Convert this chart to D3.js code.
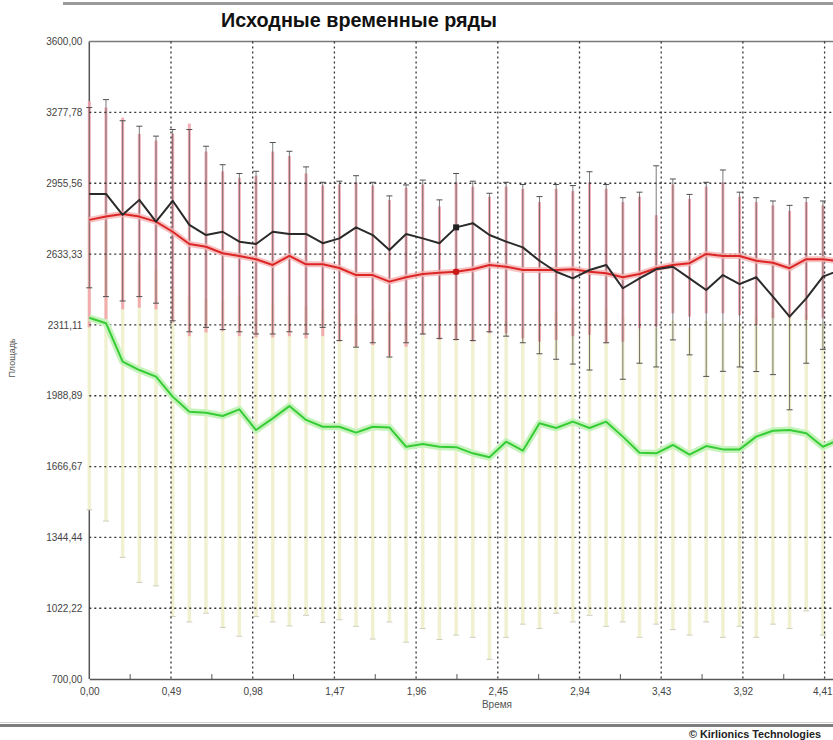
<!DOCTYPE html>
<html>
<head>
<meta charset="utf-8">
<script src="https://cdn.jsdelivr.net/npm/d3@7"></script>
<style>
  html, body { margin: 0; padding: 0; background: #fff; overflow: hidden; }
  text { font-family: "Liberation Sans", Arial, sans-serif; }
</style>
</head>
<body>
<svg id="chart" width="833" height="740"></svg>
<script>
// Time points (step 0.1)
const time = [0.0, 0.1, 0.2, 0.3, 0.4, 0.5, 0.6, 0.7, 0.8, 0.9,
              1.0, 1.1, 1.2, 1.3, 1.4, 1.5, 1.6, 1.7, 1.8, 1.9,
              2.0, 2.1, 2.2, 2.3, 2.4, 2.5, 2.6, 2.7, 2.8, 2.9,
              3.0, 3.1, 3.2, 3.3, 3.4, 3.5, 3.6, 3.7, 3.8, 3.9,
              4.0, 4.1, 4.2, 4.3, 4.4, 4.5];

// Series 1 (black)
const blackMean = [2907, 2907, 2812, 2880, 2781, 2876, 2766, 2720, 2735, 2690,
                   2679, 2735, 2725, 2725, 2683, 2705, 2755, 2720, 2652, 2725,
                   2705, 2683, 2755, 2774, 2720, 2690, 2664, 2603, 2553, 2523,
                   2561, 2584, 2478, 2523, 2564, 2576, 2523, 2470, 2538, 2497,
                   2528, 2440, 2349, 2432, 2531, 2560];
const blackHigh = [3300, 3336, 3240, 3215, 3170, 3200, 3200, 3124, 3040, 3000,
                   3010, 3141, 3101, 3030, 2960, 2965, 2990, 2960, 2898, 2948,
                   2970, 2880, 3000, 2965, 2910, 2960, 2950, 2895, 2950, 2945,
                   3008, 2950, 2890, 2915, 3035, 2975, 2905, 2960, 3016, 2915,
                   2890, 2875, 2855, 2890, 2875, 2885];
const blackLow  = [2480, 2440, 2420, 2440, 2410, 2330, 2280, 2300, 2290, 2280,
                   2270, 2270, 2280, 2270, 2300, 2240, 2210, 2230, 2165, 2230,
                   2270, 2250, 2245, 2240, 2280, 2260, 2230, 2180, 2155, 2133,
                   2106, 2230, 2064, 2137, 2120, 2243, 2175, 2077, 2100, 2120,
                   2099, 2085, 1925, 2137, 2200, 2180];

// Series 2 (red)
const redMean = [2789, 2804, 2816, 2804, 2781, 2735, 2679, 2667, 2637, 2625,
                 2610, 2584, 2625, 2587, 2587, 2570, 2538, 2538, 2508, 2528,
                 2543, 2549, 2553, 2564, 2584, 2576, 2561, 2561, 2561, 2564,
                 2553, 2546, 2528, 2543, 2569, 2584, 2592, 2634, 2625, 2625,
                 2603, 2594, 2569, 2610, 2610, 2600];
const redHigh = [3330, 3300, 3254, 3180, 3150, 3180, 3227, 3100, 3010, 2980,
                 2990, 3100, 3080, 3000, 2945, 2950, 2960, 2945, 2880, 2935,
                 2950, 2850, 2960, 2940, 2895, 2940, 2930, 2870, 2930, 2920,
                 2960, 2930, 2870, 2895, 2810, 2950, 2885, 2940, 2960, 2895,
                 2870, 2855, 2830, 2870, 2855, 2860];
const redLow  = [2300, 2336, 2382, 2390, 2382, 2322, 2260, 2277, 2283, 2260,
                 2254, 2254, 2260, 2250, 2260, 2236, 2214, 2220, 2170, 2212,
                 2266, 2243, 2240, 2235, 2273, 2273, 2250, 2235, 2243, 2260,
                 2266, 2228, 2235, 2296, 2303, 2364, 2349, 2364, 2364, 2355,
                 2311, 2342, 2342, 2334, 2342, 2330];

// Series 3 (green)
const greenMean = [2344, 2319, 2144, 2106, 2076, 1985, 1916, 1912, 1897, 1927,
                   1833, 1886, 1942, 1879, 1848, 1848, 1821, 1848, 1845, 1757,
                   1769, 1757, 1755, 1727, 1709, 1780, 1739, 1864, 1842, 1871,
                   1842, 1871, 1803, 1730, 1727, 1765, 1721, 1760, 1745, 1745,
                   1803, 1830, 1833, 1818, 1757, 1790];
const greenHigh = [2800, 2780, 2650, 2600, 2560, 2480, 2440, 2430, 2420, 2440,
                   2380, 2410, 2450, 2400, 2380, 2380, 2360, 2380, 2370, 2320,
                   2330, 2320, 2320, 2300, 2290, 2330, 2300, 2380, 2370, 2390,
                   2370, 2390, 2350, 2300, 2300, 2330, 2300, 2330, 2320, 2320,
                   2350, 2370, 2370, 2360, 2320, 2340];
const greenLow  = [1470, 1419, 1254, 1140, 1124, 985, 960, 1000, 935, 895,
                   985, 960, 942, 990, 958, 970, 940, 882, 960, 868,
                   930, 880, 900, 890, 790, 890, 950, 930, 1000, 960,
                   990, 940, 960, 890, 950, 925, 900, 960, 890, 940,
                   890, 950, 930, 1010, 900, 960];

// Axis ticks and labels
const xTicks = [0, 0.49, 0.98, 1.47, 1.96, 2.45, 2.94, 3.43, 3.92, 4.41];
const xTickLabels = ["0,00", "0,49", "0,98", "1,47", "1,96", "2,45", "2,94", "3,43", "3,92", "4,41"];
const yTicks = [700, 1022.22, 1344.44, 1666.67, 1988.89, 2311.11, 2633.33, 2955.56, 3277.78, 3600];
const yTickLabels = ["700,00", "1022,22", "1344,44", "1666,67", "1988,89", "2311,11", "2633,33", "2955,56", "3277,78", "3600,00"];
const markerIndex = 22;

const W = 833;
const svg = d3.select("#chart");
svg.append("rect").attr("width", W).attr("height", 740).attr("fill", "#fff");

const plotLeft = 89.3, plotTop = 41.6, plotBottom = 679.1;
const x = d3.scaleLinear().domain([0, 4.9]).range([plotLeft, plotLeft + 817]);
const y = d3.scaleLinear().domain([700, 3600]).range([plotBottom, plotTop]);

// Window frame lines
svg.append("rect").attr("x", 63).attr("y", 2).attr("width", W - 63).attr("height", 3).attr("fill", "#9a9a9a");
svg.append("rect").attr("x", 0).attr("y", 724).attr("width", W).attr("height", 3).attr("fill", "#7d7d7d");
svg.append("rect").attr("x", 0).attr("y", 722).attr("width", W).attr("height", 1).attr("fill", "#cfcfcf");

// Title
svg.append("text").attr("x", 359).attr("y", 27).attr("text-anchor", "middle")
  .attr("font-size", 19.8).attr("font-weight", "bold").attr("fill", "#111")
  .text("Исходные временные ряды");

// Plot frame: left axis, top border
svg.append("line").attr("x1", plotLeft).attr("x2", plotLeft).attr("y1", plotTop).attr("y2", plotBottom)
  .attr("stroke", "#555").attr("stroke-width", 1.5);
svg.append("line").attr("x1", plotLeft).attr("x2", W).attr("y1", plotTop).attr("y2", plotTop)
  .attr("stroke", "#7a7a7a").attr("stroke-width", 1.5);

const idx = d3.range(time.length);

// Green series spread bars
svg.append("g").selectAll("line").data(idx).join("line")
  .attr("x1", i => x(time[i])).attr("x2", i => x(time[i]))
  .attr("y1", i => y(greenHigh[i])).attr("y2", i => y(greenLow[i]))
  .attr("stroke", "#f1f1d2").attr("stroke-width", 3.5);
svg.append("g").selectAll("line").data(idx).join("line")
  .attr("x1", i => x(time[i]) - 3).attr("x2", i => x(time[i]) + 3)
  .attr("y1", i => y(greenLow[i])).attr("y2", i => y(greenLow[i]))
  .attr("stroke", "#cfcfbd").attr("stroke-width", 1);

// Red series spread bars
svg.append("g").selectAll("line").data(idx).join("line")
  .attr("x1", i => x(time[i])).attr("x2", i => x(time[i]))
  .attr("y1", i => y(redHigh[i])).attr("y2", i => y(redLow[i]))
  .attr("stroke", "#f2a0ab").attr("stroke-width", 3).attr("opacity", 0.85);

// Black series spread bars with caps
svg.append("g").selectAll("line").data(idx).join("line")
  .attr("x1", i => x(time[i])).attr("x2", i => x(time[i]))
  .attr("y1", i => y(blackHigh[i])).attr("y2", i => y(blackLow[i]))
  .attr("stroke", "#5a5a5a").attr("stroke-width", 1).attr("opacity", 0.8);
const caps = svg.append("g").attr("stroke", "#505050").attr("stroke-width", 1);
caps.selectAll(".hi").data(idx).join("line").attr("class", "hi")
  .attr("x1", i => x(time[i]) - 3).attr("x2", i => x(time[i]) + 3)
  .attr("y1", i => y(blackHigh[i])).attr("y2", i => y(blackHigh[i]));
caps.selectAll(".lo").data(idx).join("line").attr("class", "lo")
  .attr("x1", i => x(time[i]) - 3).attr("x2", i => x(time[i]) + 3)
  .attr("y1", i => y(blackLow[i])).attr("y2", i => y(blackLow[i]));

// Dotted grid
const grid = svg.append("g").attr("stroke", "#333").attr("stroke-width", 1.3)
  .attr("stroke-dasharray", "2,3");
grid.selectAll(".gx").data(xTicks.slice(1)).join("line").attr("class", "gx")
  .attr("x1", d => x(d)).attr("x2", d => x(d)).attr("y1", plotTop).attr("y2", plotBottom);
grid.selectAll(".gy").data(yTicks.slice(1, -1)).join("line").attr("class", "gy")
  .attr("x1", plotLeft).attr("x2", W).attr("y1", d => y(d)).attr("y2", d => y(d));

// Bottom axis with minor ticks
const xAxis = d3.axisBottom(x).tickValues(xTicks).tickSize(0).tickPadding(9)
  .tickFormat((d, i) => xTickLabels[i]);
const gx = svg.append("g").attr("transform", `translate(0,${plotBottom})`).call(xAxis);
gx.select(".domain").attr("stroke", "#555").attr("stroke-width", 1.5);
gx.selectAll("text").attr("font-size", 10).attr("fill", "#444")
  .attr("font-family", "'Liberation Sans', Arial, sans-serif");
// keep the last label inside the window edge
gx.selectAll(".tick").filter(d => x(d) + 11 > W).select("text")
  .attr("text-anchor", "end").attr("x", d => W - 1 - x(d));
const minor = xTicks.map(d => d + 0.245);
svg.append("g").selectAll("line").data(minor).join("line")
  .attr("x1", d => x(d)).attr("x2", d => x(d)).attr("y1", plotBottom - 5).attr("y2", plotBottom)
  .attr("stroke", "#555").attr("stroke-width", 1);

// Left axis labels
const yAxis = d3.axisLeft(y).tickValues(yTicks).tickSize(0).tickPadding(7)
  .tickFormat((d, i) => yTickLabels[i]);
const gy = svg.append("g").attr("transform", `translate(${plotLeft},0)`).call(yAxis);
gy.select(".domain").remove();
gy.selectAll("text").attr("font-size", 10).attr("fill", "#444")
  .attr("font-family", "'Liberation Sans', Arial, sans-serif");

// Axis titles
svg.append("text").attr("x", 497).attr("y", 708).attr("text-anchor", "middle")
  .attr("font-size", 10).attr("fill", "#555").text("Время");
svg.append("text").attr("transform", "translate(15,358) rotate(-90)").attr("text-anchor", "middle")
  .attr("font-size", 9).attr("fill", "#555").text("Площадь");

// Series lines
const line = arr => d3.line().x((d, i) => x(time[i])).y(d => y(d))(arr);

svg.append("path").attr("d", line(greenMean)).attr("fill", "none")
  .attr("stroke", "#c6f3bb").attr("stroke-width", 7).attr("stroke-linejoin", "round");
svg.append("path").attr("d", line(greenMean)).attr("fill", "none")
  .attr("stroke", "#36cc36").attr("stroke-width", 2).attr("stroke-linejoin", "round");

svg.append("path").attr("d", line(redMean)).attr("fill", "none")
  .attr("stroke", "#f5b3b3").attr("stroke-width", 6).attr("stroke-linejoin", "round").attr("opacity", 0.8);
svg.append("path").attr("d", line(redMean)).attr("fill", "none")
  .attr("stroke", "#dc2626").attr("stroke-width", 2).attr("stroke-linejoin", "round");

svg.append("path").attr("d", line(blackMean)).attr("fill", "none")
  .attr("stroke", "#2a2a2a").attr("stroke-width", 2).attr("stroke-linejoin", "round");

// Highlighted point markers
svg.append("rect").attr("x", x(time[markerIndex]) - 3).attr("y", y(blackMean[markerIndex]) - 3)
  .attr("width", 6).attr("height", 6).attr("fill", "#222");
svg.append("circle").attr("cx", x(time[markerIndex])).attr("cy", y(redMean[markerIndex]))
  .attr("r", 3.2).attr("fill", "#c81818");

// Copyright
svg.append("text").attr("x", 689).attr("y", 738).attr("font-size", 10.8).attr("font-weight", "bold")
  .attr("fill", "#222").text("© Kirlionics Technologies");
</script>
</body>
</html>
